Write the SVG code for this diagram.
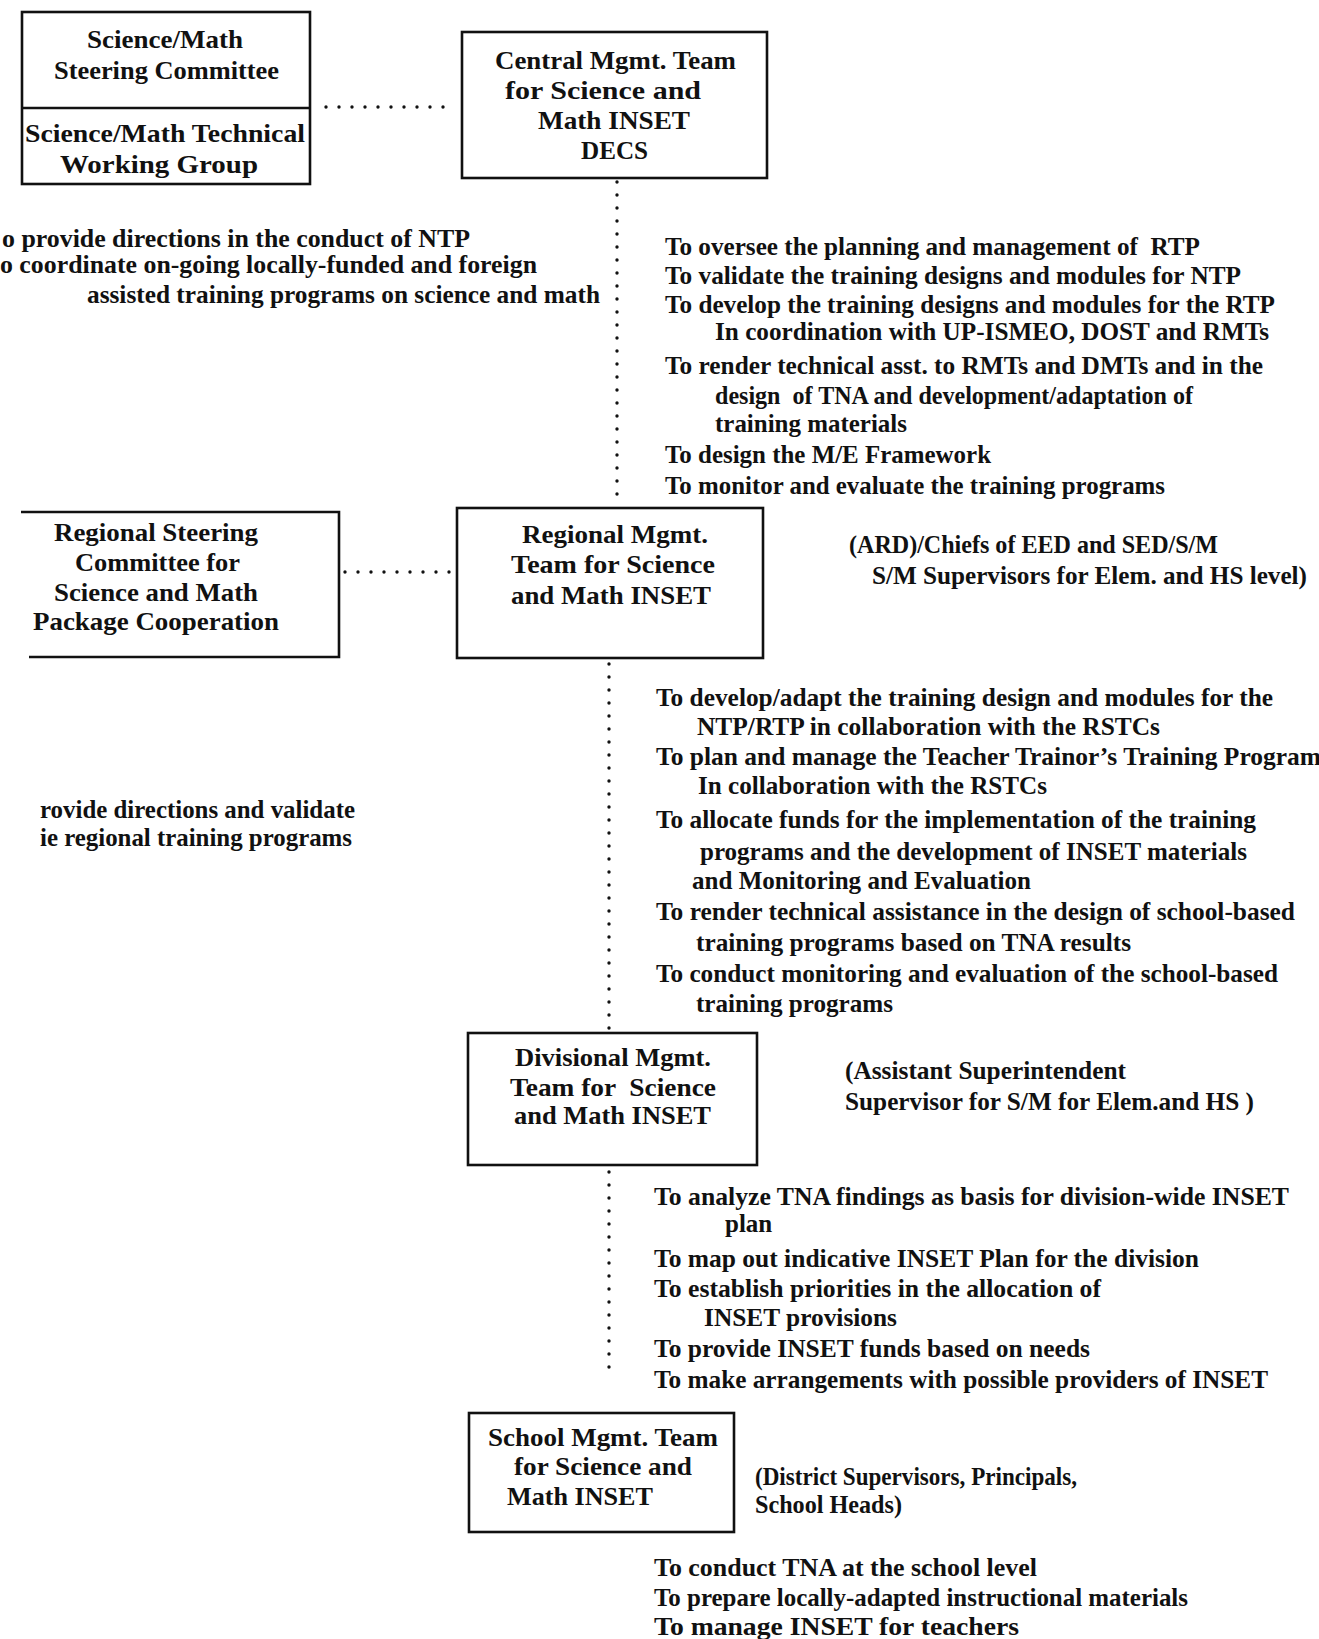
<svg xmlns="http://www.w3.org/2000/svg" width="1319" height="1639" viewBox="0 0 1319 1639">
<style>
text{font-family:"Liberation Serif","Times New Roman",serif;font-weight:bold;fill:#111;}
.b{font-size:26px;}
.t{font-size:25px;}
.pre{white-space:pre;}
.box{fill:none;stroke:#111;stroke-width:2.6;}
.dot{fill:none;stroke:#111;stroke-width:3.4;stroke-linecap:round;stroke-dasharray:0 13;}
</style>
<rect width="1319" height="1639" fill="#fff"/>
<g id="connectors">
<line class="dot" x1="326" y1="107" x2="452" y2="107"/>
<line class="dot" x1="617" y1="182" x2="617" y2="505"/>
<line class="dot" x1="345" y1="572" x2="452" y2="572"/>
<line class="dot" x1="609" y1="664" x2="609" y2="1030"/>
<line class="dot" x1="609" y1="1172" x2="609" y2="1372"/>
</g>
<g id="steering-committee">
<rect class="box" x="22" y="12" width="288" height="172"/>
<line class="box" x1="22" y1="108" x2="310" y2="108"/>
<text class="b" x="87" y="48" textLength="156" lengthAdjust="spacingAndGlyphs">Science/Math</text>
<text class="b" x="54" y="79" textLength="225" lengthAdjust="spacingAndGlyphs">Steering Committee</text>
<text class="b" x="25" y="142" textLength="280" lengthAdjust="spacingAndGlyphs">Science/Math Technical</text>
<text class="b" x="60" y="173" textLength="198" lengthAdjust="spacingAndGlyphs">Working Group</text>
</g>
<g id="central-team">
<rect class="box" x="462" y="32" width="305" height="146"/>
<text class="b" x="495" y="69" textLength="241" lengthAdjust="spacingAndGlyphs">Central Mgmt. Team</text>
<text class="b" x="505" y="99" textLength="196" lengthAdjust="spacingAndGlyphs">for Science and</text>
<text class="b" x="538" y="129" textLength="152" lengthAdjust="spacingAndGlyphs">Math INSET</text>
<text class="b" x="581" y="159" textLength="67" lengthAdjust="spacingAndGlyphs">DECS</text>
</g>
<g id="central-left-text">
<text class="t" x="2" y="247" textLength="468" lengthAdjust="spacingAndGlyphs">o provide directions in the conduct of NTP</text>
<text class="t" x="0" y="273" textLength="537" lengthAdjust="spacingAndGlyphs">o coordinate on-going locally-funded and foreign</text>
<text class="t" x="87" y="303" textLength="513" lengthAdjust="spacingAndGlyphs">assisted training programs on science and math</text>
</g>
<g id="central-right-text">
<text class="t pre" x="665" y="255" textLength="535" lengthAdjust="spacingAndGlyphs">To oversee the planning and management of  RTP</text>
<text class="t" x="665" y="284" textLength="576" lengthAdjust="spacingAndGlyphs">To validate the training designs and modules for NTP</text>
<text class="t" x="665" y="313" textLength="610" lengthAdjust="spacingAndGlyphs">To develop the training designs and modules for the RTP</text>
<text class="t" x="715" y="340" textLength="554" lengthAdjust="spacingAndGlyphs">In coordination with UP-ISMEO, DOST and RMTs</text>
<text class="t" x="665" y="374" textLength="598" lengthAdjust="spacingAndGlyphs">To render technical asst. to RMTs and DMTs and in the</text>
<text class="t pre" x="715" y="404" textLength="478" lengthAdjust="spacingAndGlyphs">design  of TNA and development/adaptation of</text>
<text class="t" x="715" y="432" textLength="192" lengthAdjust="spacingAndGlyphs">training materials</text>
<text class="t" x="665" y="463" textLength="326" lengthAdjust="spacingAndGlyphs">To design the M/E Framework</text>
<text class="t" x="665" y="494" textLength="500" lengthAdjust="spacingAndGlyphs">To monitor and evaluate the training programs</text>
</g>
<g id="regional-steering">
<path class="box" d="M21 512 H339 V657 H29"/>
<text class="b" x="54" y="541" textLength="204" lengthAdjust="spacingAndGlyphs">Regional Steering</text>
<text class="b" x="75" y="571" textLength="165" lengthAdjust="spacingAndGlyphs">Committee for</text>
<text class="b" x="54" y="601" textLength="204" lengthAdjust="spacingAndGlyphs">Science and Math</text>
<text class="b" x="33" y="630" textLength="246" lengthAdjust="spacingAndGlyphs">Package Cooperation</text>
</g>
<g id="regional-team">
<rect class="box" x="457" y="508" width="306" height="150"/>
<text class="b" x="522" y="543" textLength="186" lengthAdjust="spacingAndGlyphs">Regional Mgmt.</text>
<text class="b" x="511" y="573" textLength="204" lengthAdjust="spacingAndGlyphs">Team for Science</text>
<text class="b" x="511" y="604" textLength="200" lengthAdjust="spacingAndGlyphs">and Math INSET</text>
</g>
<g id="regional-note">
<text class="t" x="849" y="553" textLength="369" lengthAdjust="spacingAndGlyphs">(ARD)/Chiefs of EED and SED/S/M</text>
<text class="t" x="872" y="584" textLength="435" lengthAdjust="spacingAndGlyphs">S/M Supervisors for Elem. and HS level)</text>
</g>
<g id="regional-right-text">
<text class="t" x="656" y="706" textLength="617" lengthAdjust="spacingAndGlyphs">To develop/adapt the training design and modules for the</text>
<text class="t" x="697" y="735" textLength="463" lengthAdjust="spacingAndGlyphs">NTP/RTP in collaboration with the RSTCs</text>
<text class="t" x="656" y="765" textLength="665" lengthAdjust="spacingAndGlyphs">To plan and manage the Teacher Trainor’s Training Program</text>
<text class="t" x="698" y="794" textLength="349" lengthAdjust="spacingAndGlyphs">In collaboration with the RSTCs</text>
<text class="t" x="656" y="828" textLength="600" lengthAdjust="spacingAndGlyphs">To allocate funds for the implementation of the training</text>
<text class="t" x="700" y="860" textLength="547" lengthAdjust="spacingAndGlyphs">programs and the development of INSET materials</text>
<text class="t" x="692" y="889" textLength="339" lengthAdjust="spacingAndGlyphs">and Monitoring and Evaluation</text>
<text class="t" x="656" y="920" textLength="639" lengthAdjust="spacingAndGlyphs">To render technical assistance in the design of school-based</text>
<text class="t" x="696" y="951" textLength="435" lengthAdjust="spacingAndGlyphs">training programs based on TNA results</text>
<text class="t" x="656" y="982" textLength="622" lengthAdjust="spacingAndGlyphs">To conduct monitoring and evaluation of the school-based</text>
<text class="t" x="696" y="1012" textLength="197" lengthAdjust="spacingAndGlyphs">training programs</text>
</g>
<g id="regional-left-text">
<text class="t" x="40" y="818" textLength="315" lengthAdjust="spacingAndGlyphs">rovide directions and validate</text>
<text class="t" x="40" y="846" textLength="312" lengthAdjust="spacingAndGlyphs">ie regional training programs</text>
</g>
<g id="divisional-team">
<rect class="box" x="468" y="1033" width="289" height="132"/>
<text class="b" x="515" y="1066" textLength="196" lengthAdjust="spacingAndGlyphs">Divisional Mgmt.</text>
<text class="b pre" x="510" y="1096" textLength="206" lengthAdjust="spacingAndGlyphs">Team for  Science</text>
<text class="b" x="514" y="1124" textLength="197" lengthAdjust="spacingAndGlyphs">and Math INSET</text>
</g>
<g id="divisional-note">
<text class="t" x="845" y="1079" textLength="281" lengthAdjust="spacingAndGlyphs">(Assistant Superintendent</text>
<text class="t" x="845" y="1110" textLength="409" lengthAdjust="spacingAndGlyphs">Supervisor for S/M for Elem.and HS )</text>
</g>
<g id="divisional-right-text">
<text class="t" x="654" y="1205" textLength="635" lengthAdjust="spacingAndGlyphs">To analyze TNA findings as basis for division-wide INSET</text>
<text class="t" x="725" y="1232">plan</text>
<text class="t" x="654" y="1267" textLength="545" lengthAdjust="spacingAndGlyphs">To map out indicative INSET Plan for the division</text>
<text class="t" x="654" y="1297" textLength="447" lengthAdjust="spacingAndGlyphs">To establish priorities in the allocation of</text>
<text class="t" x="704" y="1326" textLength="193" lengthAdjust="spacingAndGlyphs">INSET provisions</text>
<text class="t" x="654" y="1357" textLength="436" lengthAdjust="spacingAndGlyphs">To provide INSET funds based on needs</text>
<text class="t" x="654" y="1388" textLength="614" lengthAdjust="spacingAndGlyphs">To make arrangements with possible providers of INSET</text>
</g>
<g id="school-team">
<rect class="box" x="469" y="1413" width="265" height="119"/>
<text class="b" x="488" y="1446" textLength="230" lengthAdjust="spacingAndGlyphs">School Mgmt. Team</text>
<text class="b" x="514" y="1475" textLength="178" lengthAdjust="spacingAndGlyphs">for Science and</text>
<text class="b" x="507" y="1505" textLength="146" lengthAdjust="spacingAndGlyphs">Math INSET</text>
</g>
<g id="school-note">
<text class="t" x="755" y="1485" textLength="322" lengthAdjust="spacingAndGlyphs">(District Supervisors, Principals,</text>
<text class="t" x="755" y="1513" textLength="147" lengthAdjust="spacingAndGlyphs">School Heads)</text>
</g>
<g id="school-text">
<text class="t" x="654" y="1576" textLength="383" lengthAdjust="spacingAndGlyphs">To conduct TNA at the school level</text>
<text class="t" x="654" y="1606" textLength="534" lengthAdjust="spacingAndGlyphs">To prepare locally-adapted instructional materials</text>
<text class="t" x="654" y="1635" textLength="365" lengthAdjust="spacingAndGlyphs">To manage INSET for teachers</text>
</g>
</svg>
